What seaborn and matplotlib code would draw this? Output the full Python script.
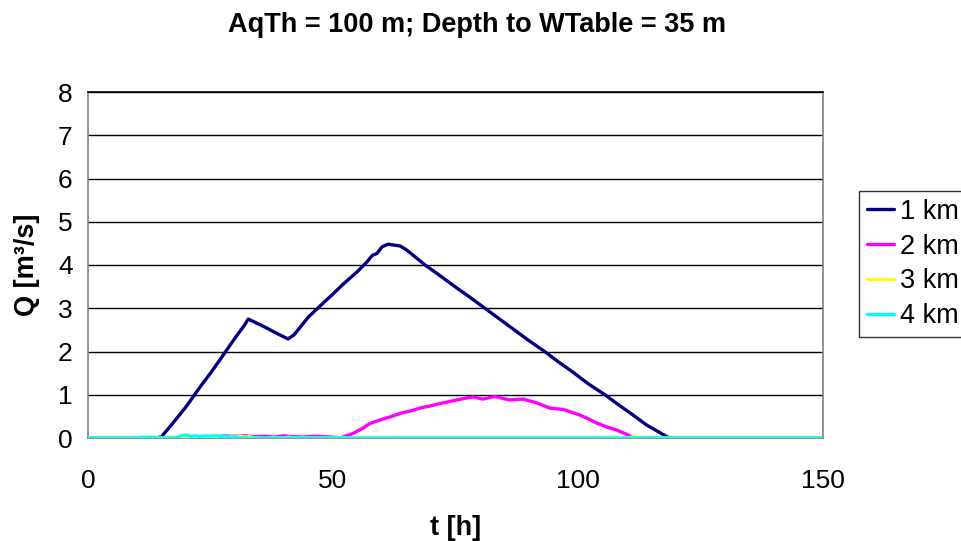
import numpy as np
import pandas as pd
import matplotlib
matplotlib.use("Agg")
import matplotlib.pyplot as plt
import seaborn as sns

# ---- data ----
t_1km = [0, 14, 15, 17, 20, 23, 25, 27, 30, 32, 32.7, 34, 36, 38, 40.8, 42, 45, 48, 50, 52, 55,
         57, 58, 59, 60, 61.2, 63.7, 65, 68.8, 72, 75, 78, 81, 84, 87, 90, 93.2, 96, 99,
         102, 105.5, 108, 111, 114, 116, 118.3, 119, 150]
q_1km = [0, 0, 0.03, 0.3, 0.72, 1.2, 1.5, 1.82, 2.31, 2.62, 2.75, 2.68, 2.57, 2.45, 2.29, 2.38,
         2.8, 3.12, 3.33, 3.55, 3.85, 4.08, 4.22, 4.27, 4.42, 4.48, 4.44, 4.35, 4.0, 3.74, 3.49,
         3.25, 3.0, 2.75, 2.5, 2.25, 2.0, 1.76, 1.52, 1.26, 1.0, 0.79, 0.55, 0.3, 0.17, 0.02, 0, 0]

t_2km = [0, 25, 26, 28, 30, 32, 34, 36, 38, 40, 42, 44, 46, 48, 50, 51.5, 52, 54, 56, 57.6,
         60, 62, 63.7, 66, 68, 69.8, 72, 75.3, 77, 78.6, 80.6, 83, 86, 88.8, 91.6, 94.3, 97,
         100.4, 102, 103.9, 106, 108, 110.6, 111.5, 150]
q_2km = [0, 0, 0.03, 0.05, 0.04, 0.05, 0.03, 0.04, 0.02, 0.05, 0.03, 0.02, 0.04, 0.03, 0.02, 0,
         0.02, 0.1, 0.22, 0.34, 0.43, 0.5, 0.57, 0.63, 0.7, 0.74, 0.8, 0.88, 0.92, 0.95, 0.9, 0.96,
         0.88, 0.9, 0.81, 0.69, 0.66, 0.53, 0.45, 0.34, 0.25, 0.18, 0.05, 0, 0]

t_3km = [0, 28, 29, 30, 31, 32, 33, 34, 40, 41, 42, 110, 111, 112, 113, 150]
q_3km = [0, 0, 0.04, 0.02, 0.04, 0.02, 0.03, 0, 0, 0.02, 0, 0, 0.02, 0.03, 0, 0]

t_4km = [0, 10, 11, 12, 13, 14, 18, 19, 20, 21, 22, 23, 24, 25, 26, 27, 28, 29, 30, 31, 150]
q_4km = [0, 0, 0.02, 0.01, 0.02, 0, 0, 0.05, 0.07, 0.04, 0.05, 0.03, 0.05, 0.04, 0.06, 0.03,
         0.05, 0.02, 0.03, 0, 0]

series_names = ["1 km", "2 km", "3 km", "4 km"]
series_colors = ["#000080", "#FF00FF", "#FFFF00", "#00FFFF"]
x_ticks = [0, 50, 100, 150]
y_ticks = [0, 1, 2, 3, 4, 5, 6, 7, 8]
title = "AqTh = 100 m; Depth to WTable = 35 m"

frames = []
for name, t, q in zip(series_names, [t_1km, t_2km, t_3km, t_4km], [q_1km, q_2km, q_3km, q_4km]):
    frames.append(pd.DataFrame({"t": t, "Q": q, "series": name}))
df = pd.concat(frames, ignore_index=True)

sns.set_style("white")
plt.rcParams["font.family"] = ["Liberation Sans", "DejaVu Sans"]
plt.rcParams["text.color"] = "#000000"
plt.rcParams["axes.labelcolor"] = "#000000"

fig = plt.figure(figsize=(9.61, 5.41), dpi=100)
ax = fig.add_axes([88 / 961, 1 - 438 / 541, (823 - 88) / 961, (438 - 92) / 541])

sns.lineplot(data=df, x="t", y="Q", hue="series", hue_order=series_names,
             palette=dict(zip(series_names, series_colors)), estimator=None, sort=False,
             linewidth=2.4, ax=ax, zorder=3)

ax.set_xlim(0, 150)
ax.set_ylim(0, 8)
ax.set_xticks(x_ticks)
ax.set_yticks(y_ticks)
ax.yaxis.grid(True, color="#000000", linewidth=1.0)
ax.set_axisbelow(True)
for s in ["left", "bottom", "right", "top"]:
    ax.spines[s].set_color("#808080")
    ax.spines[s].set_linewidth(1.2)
ax.spines["top"].set_color("#000000")
ax.tick_params(axis="both", which="major", direction="out", length=6, width=1,
               color="#808080", labelsize=19, labelcolor="#000000")
ax.tick_params(axis="x", pad=16)
ax.tick_params(axis="y", pad=5)

ax.set_xlabel("t [h]", fontsize=19.5, fontweight="bold", labelpad=16, color="#000000")
ax.set_ylabel("Q [m³/s]", fontsize=19.5, fontweight="bold", labelpad=13, color="#000000")
fig.text(0.5 * (230 + 725) / 961, 1 - 25 / 541, title, ha="center", va="center",
         fontsize=19.5, fontweight="bold", color="#000000")

ax.legend_.remove()
handles, labels = ax.get_legend_handles_labels()
leg = fig.legend(handles, labels, loc="upper left", bbox_to_anchor=(859 / 961, 1 - 191 / 541),
                 frameon=True, fancybox=False, edgecolor="#000000", fontsize=19.5,
                 handlelength=1.0, handletextpad=0.22, labelspacing=0.33, borderpad=0.28,
                 borderaxespad=0, labelcolor="#000000")
leg.get_frame().set_linewidth(1.0)
for line in leg.get_lines():
    line.set_linewidth(2.4)

fig.savefig("out.png", dpi=100)
